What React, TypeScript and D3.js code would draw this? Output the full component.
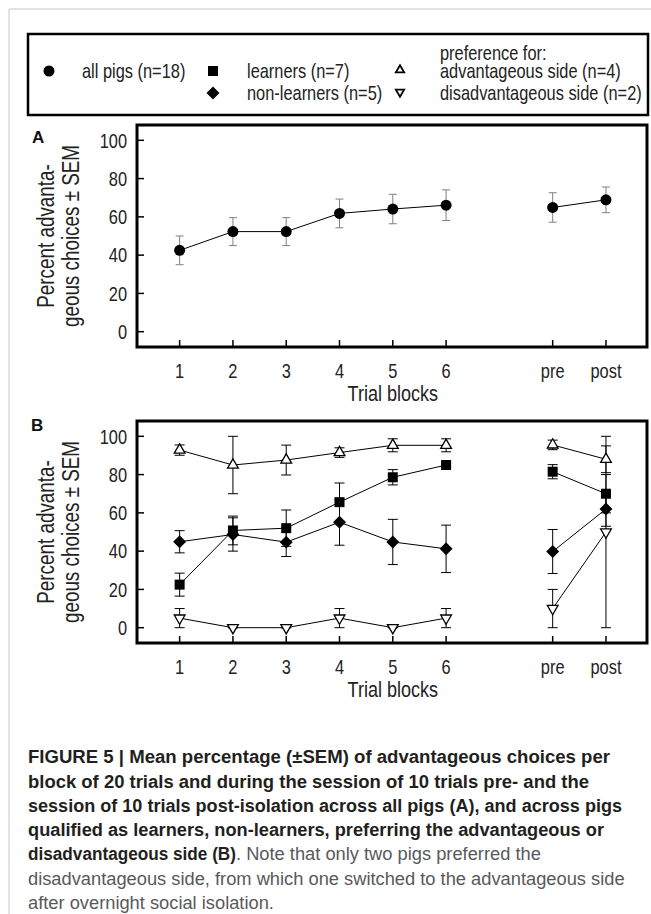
import * as d3 from 'd3';

// trial blocks: 6 training blocks, then pre- and post-isolation sessions
const blockLabels = ['1', '2', '3', '4', '5', '6', 'pre', 'post'];
const blockPos = [1, 2, 3, 4, 5, 6, 8, 9];
const yTicks = [0, 20, 40, 60, 80, 100];

// panel A: all pigs
const allMean = [42.5, 52.3, 52.3, 61.8, 64.1, 66.1, 64.9, 68.9];
const allSem = [7.5, 7.3, 7.3, 7.5, 7.7, 8, 7.7, 6.7];

// panel B
const learnMean = [22.5, 50.8, 52, 65.6, 78.6, 85, 81.5, 70];
const learnSem = [6, 7.5, 9.5, 10, 4, 1, 3.7, 10];
const nonMean = [44.9, 48.7, 44.7, 55.1, 44.8, 41.2, 39.8, 62];
const nonSem = [5.8, 8.7, 7.5, 12, 11.8, 12.4, 11.5, 9];
const advMean = [92.8, 85, 87.6, 91.5, 95.3, 95.3, 95.5, 88];
const advSem = [2.7, 15, 7.8, 2.5, 3.4, 3.4, 2.5, 7];
const disMean = [5, 0, 0, 5, 0, 5, 10, 50];
const disSem = [5, 0, 0, 5, 0, 5, 10, 50];

const captionBold = [
  'FIGURE 5 | Mean percentage (\u00B1SEM) of advantageous choices per',
  'block of 20 trials and during the session of 10 trials pre- and the',
  'session of 10 trials post-isolation across all pigs (A), and across pigs',
  'qualified as learners, non-learners, preferring the advantageous or',
];
const captionBoldW = [582, 561, 594, 576];

const sans = "'Liberation Sans', Arial, sans-serif";
const squeeze = 0.82; // no narrow face installed, so condense by hand

const x = d3.scaleLinear().domain([0.2, 9.77]).range([137, 647]);

const circle = d3.symbol(d3.symbolCircle, 95)();
const square = d3.symbol(d3.symbolSquare, 100)();
const diamond = d3.symbol(d3.symbolSquare, 84)();
const tri = d3.symbol(d3.symbolTriangle, 50)();
const triSmall = d3.symbol(d3.symbolTriangle, 30)();

type Series = {
  mean: number[];
  sem: number[];
  shape: string;
  rotate: number;
  fill: string;
};

const seriesA: Series[] = [
  { mean: allMean, sem: allSem, shape: circle, rotate: 0, fill: '#000' },
];
const seriesB: Series[] = [
  { mean: disMean, sem: disSem, shape: tri, rotate: 180, fill: '#fff' },
  { mean: nonMean, sem: nonSem, shape: diamond, rotate: 45, fill: '#000' },
  { mean: learnMean, sem: learnSem, shape: square, rotate: 0, fill: '#000' },
  { mean: advMean, sem: advSem, shape: tri, rotate: 0, fill: '#fff' },
];

function NText({ x, y, rot = 0, size = 20, anchor = 'start', dy, children }: any) {
  return (
    <text
      transform={`translate(${x},${y}) rotate(${rot}) scale(${squeeze},1)`}
      textAnchor={anchor}
      dy={dy}
      fontFamily={sans}
      fontSize={size}
      fill="#222"
    >
      {children}
    </text>
  );
}

function Panel({ top, label, labelX, labelY, series, errColor, capW }: any) {
  const y = d3.scaleLinear().domain([-8, 108]).range([top + 222, top]);
  const seg = (s: Series, idx: number[]) =>
    d3.line<number>()
      .x((i) => x(blockPos[i]))
      .y((i) => y(s.mean[i]))(idx);
  const cy = top + 111;
  return (
    <g>
      <text x={labelX} y={labelY} fontFamily={sans} fontWeight="bold" fontSize={17} fill="#111">{label}</text>
      <NText x={54} y={cy} rot={-90} size={23} anchor="middle">Percent advanta-</NText>
      <NText x={79} y={cy} rot={-90} size={23} anchor="middle">{'geous choices \u00B1 SEM'}</NText>
      {yTicks.map((t) => (
        <g key={t}>
          <line x1={137} x2={144} y1={y(t)} y2={y(t)} stroke="#000" strokeWidth={1.5} />
          <NText x={127} y={y(t)} dy="0.36em" anchor="end">{t}</NText>
        </g>
      ))}
      {blockLabels.map((b, i) => (
        <g key={b}>
          <line x1={x(blockPos[i])} x2={x(blockPos[i])} y1={top + 222} y2={top + 215} stroke="#000" strokeWidth={1.5} />
          <NText x={x(blockPos[i])} y={top + 253} anchor="middle">{b}</NText>
        </g>
      ))}
      <NText x={x(5)} y={top + 276} size={22} anchor="middle">Trial blocks</NText>
      {series.map((s: Series, k: number) => (
        <g key={k}>
          <path d={seg(s, [0, 1, 2, 3, 4, 5]) || ''} fill="none" stroke="#000" strokeWidth={1} />
          <path d={seg(s, [6, 7]) || ''} fill="none" stroke="#000" strokeWidth={1} />
          {s.mean.map((m, i) => {
            const cx = x(blockPos[i]);
            const hi = y(m + s.sem[i]);
            const lo = y(m - s.sem[i]);
            return (
              <g key={i} stroke={errColor} strokeWidth={1}>
                <line x1={cx} x2={cx} y1={hi} y2={lo} />
                <line x1={cx - capW} x2={cx + capW} y1={hi} y2={hi} />
                <line x1={cx - capW} x2={cx + capW} y1={lo} y2={lo} />
              </g>
            );
          })}
        </g>
      ))}
      {series.map((s: Series, k: number) => (
        <g key={'m' + k}>
          {s.mean.map((m, i) => (
            <path
              key={i}
              d={s.shape}
              transform={`translate(${x(blockPos[i])},${y(m)}) rotate(${s.rotate})`}
              fill={s.fill}
              stroke="#000"
              strokeWidth={s.fill === '#fff' ? 1.3 : 0}
            />
          ))}
        </g>
      ))}
      <rect x={137} y={top} width={510} height={222} fill="none" stroke="#000" strokeWidth={3} />
    </g>
  );
}

export default function App() {
  const capY = [763, 788, 812, 836];
  return (
    <svg width={651} height={914} style={{ position: 'absolute', left: 0, top: 0, background: '#fff' }}>
      <line x1={9} x2={651} y1={9} y2={9} stroke="#c4c4c4" strokeWidth={1} />
      <line x1={9} x2={9} y1={9} y2={914} stroke="#c4c4c4" strokeWidth={1} />

      {/* legend */}
      <rect x={28} y={34} width={620} height={81} fill="none" stroke="#000" strokeWidth={2.5} />
      <path d={circle} transform="translate(49,71)" fill="#000" />
      <NText x={82} y={78}>all pigs (n=18)</NText>
      <path d={square} transform="translate(213,71)" fill="#000" />
      <NText x={247} y={78}>learners (n=7)</NText>
      <path d={diamond} transform="translate(213,93) rotate(45)" fill="#000" />
      <NText x={247} y={100}>non-learners (n=5)</NText>
      <path d={triSmall} transform="translate(400,70)" fill="#fff" stroke="#000" strokeWidth={1.8} />
      <path d={triSmall} transform="translate(400,92) rotate(180)" fill="#fff" stroke="#000" strokeWidth={1.8} />
      <NText x={440} y={60}>preference for:</NText>
      <NText x={440} y={78}>advantageous side (n=4)</NText>
      <NText x={440} y={100}>disadvantageous side (n=2)</NText>

      <Panel top={125} label="A" labelX={32} labelY={143} series={seriesA} errColor="#808080" capW={4} />
      <Panel top={421} label="B" labelX={31} labelY={431} series={seriesB} errColor="#000" capW={5} />

      {/* caption */}
      <g fontFamily={sans} fontSize={18}>
        {captionBold.map((t, i) => (
          <text key={i} x={28} y={capY[i]} fontWeight="bold" fill="#231f20" textLength={captionBoldW[i]} lengthAdjust="spacingAndGlyphs">{t}</text>
        ))}
        <text x={28} y={860} fontWeight="bold" fill="#231f20" textLength={208} lengthAdjust="spacingAndGlyphs">disadvantageous side (B)</text>
        <text x={236} y={860} fill="#58595b" fontSize={18.3}>. Note that only two pigs preferred the</text>
        <text x={28} y={885} fill="#58595b" fontSize={18.3}>disadvantageous side, from which one switched to the advantageous side</text>
        <text x={28} y={909} fill="#58595b" fontSize={18.3}>after overnight social isolation.</text>
      </g>
    </svg>
  );
}
